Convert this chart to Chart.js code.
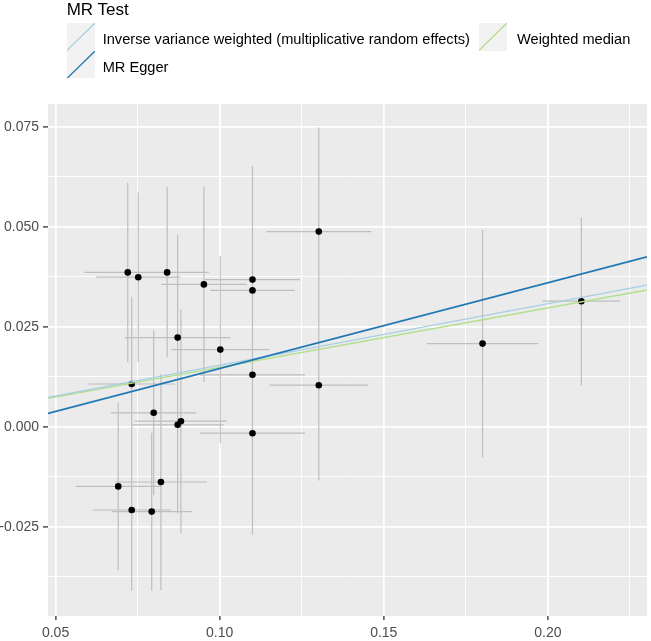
<!DOCTYPE html>
<html>
<head>
<meta charset="utf-8">
<script src="https://cdn.jsdelivr.net/npm/chart.js@4/dist/chart.umd.min.js"></script>
<style>
  body { margin: 0; background: #fff; }
  #wrap { position: relative; width: 651px; height: 641px; font-family: "Liberation Sans", Arial, sans-serif; }
  #myChart { position: absolute; left: 0; top: 0; }
  .lg { position: absolute; line-height: 1; white-space: nowrap; color: #000; }
  .key { position: absolute; background: #f2f2f2; }
</style>
</head>
<body>
<div id="wrap">
  <canvas id="myChart" width="651" height="641"></canvas>
  <div class="lg" style="left:66.7px; top:1px; font-size:17px;">MR Test</div>
  <div id="legendItems"></div>
</div>
<script>
// SNP effects on exposure (x) and outcome (y) with their standard errors
let bx = [0.0720, 0.0752, 0.0840, 0.0952, 0.1100, 0.1100, 0.0872, 0.1002, 0.1302, 0.0732, 0.0799,
          0.0872, 0.0882, 0.1100, 0.1100, 0.1302, 0.0691, 0.0821, 0.0732, 0.0793, 0.1801, 0.2102];
let by = [0.0386, 0.0374, 0.0386, 0.0356, 0.0368, 0.0341, 0.0223, 0.0193, 0.0488, 0.0107, 0.0035,
          0.0005, 0.0014, -0.0016, 0.0130, 0.0104, -0.0149, -0.0138, -0.0208, -0.0212, 0.0208, 0.0314];
let seX = [0.0132, 0.0128, 0.0127, 0.0130, 0.0145, 0.0129, 0.0161, 0.0149, 0.0160, 0.0132, 0.0130,
           0.0140, 0.0140, 0.0160, 0.0160, 0.0150, 0.0130, 0.0140, 0.0119, 0.0122, 0.0170, 0.0118];
let seY = [0.0224, 0.0212, 0.0213, 0.0244, 0.0284, 0.0270, 0.0257, 0.0234, 0.0260, 0.0218, 0.0206,
           0.0222, 0.0280, 0.0253, 0.0240, 0.0238, 0.0209, 0.0270, 0.0202, 0.0197, 0.0284, 0.0210];

// MR method fits
let methods = ["Inverse variance weighted (multiplicative random effects)", "MR Egger", "Weighted median"];
let slopes = [0.1538, 0.2145, 0.1486];
let intercepts = [0, -0.00688, 0];
let methodColors = ["#a6cee3", "#1f78b4", "#b2df8a"];

let xTicks = [0.05, 0.10, 0.15, 0.20];
let yTicks = [-0.025, 0.000, 0.025, 0.050, 0.075];

let xMin = 0.0477, xMax = 0.2302, yMin = -0.0473, yMax = 0.0807;

let isMajor = (v, list) => list.some((t) => Math.abs(t - v) < 1e-6);

// legend (html)
let legendPos = [
    { key: [66.7, 23.3], text: [102.7, 32.2] },
    { key: [66.7, 50.7], text: [102.7, 59.5] },
    { key: [479, 23.3], text: [517, 32.2] },
];
let legendHtml = "";
methods.forEach((m, i) => {
    let p = legendPos[i];
    legendHtml +=
        '<div class="key" style="left:' + p.key[0] + "px;top:" + p.key[1] + 'px;width:28px;height:27.4px;">' +
        '<svg width="28" height="27.4" style="display:block"><line x1="0" y1="27.4" x2="28" y2="0" stroke="' +
        methodColors[i] + '" stroke-width="1.3"/></svg></div>' +
        '<div class="lg" style="left:' + p.text[0] + "px;top:" + p.text[1] + 'px;font-size:14.6px;">' + m + "</div>";
});
document.getElementById("legendItems").innerHTML = legendHtml;

let hBars = [], vBars = [], points = [];
bx.forEach((x, i) => {
    points.push({ x: x, y: by[i] });
    hBars.push({ x: x - seX[i], y: by[i] }, { x: x + seX[i], y: by[i] }, { x: x, y: null });
    vBars.push({ x: x, y: by[i] - seY[i] }, { x: x, y: by[i] + seY[i] }, { x: x, y: null });
});

let lineSets = methods.map((m, i) => ({
    label: m,
    data: [
        { x: xMin, y: intercepts[i] + slopes[i] * xMin },
        { x: xMax, y: intercepts[i] + slopes[i] * xMax },
    ],
    showLine: true,
    borderColor: methodColors[i],
    borderWidth: i == 1 ? 1.6 : 1.3,
    pointRadius: 0,
    order: i == 1 ? 0 : 1,
}));

let panelBg = {
    id: "panelBg",
    beforeDraw(chart) {
        let a = chart.chartArea;
        chart.ctx.save();
        chart.ctx.fillStyle = "#ebebeb";
        chart.ctx.fillRect(a.left, a.top, a.right - a.left, a.bottom - a.top);
        chart.ctx.restore();
    },
};

var ctx = document.getElementById("myChart").getContext("2d");
var myChart = new Chart(ctx, {
    type: "scatter",
    data: {
        datasets: lineSets.concat([
            {
                label: "points",
                data: points,
                pointRadius: 3.3,
                pointBackgroundColor: "#000000",
                pointBorderWidth: 0,
                order: 2,
            },
            {
                label: "hbars",
                data: hBars,
                showLine: true,
                spanGaps: false,
                borderColor: "#bebebe",
                borderWidth: 1.2,
                pointRadius: 0,
                order: 3,
            },
            {
                label: "vbars",
                data: vBars,
                showLine: true,
                spanGaps: false,
                borderColor: "#bebebe",
                borderWidth: 1.2,
                pointRadius: 0,
                order: 3,
            },
        ]),
    },
    options: {
        responsive: false,
        animation: false,
        devicePixelRatio: 1,
        layout: { padding: { top: 104, right: 2, left: 0, bottom: 0 } },
        plugins: { legend: { display: false }, tooltip: { enabled: false } },
        scales: {
            x: {
                type: "linear",
                min: xMin,
                max: xMax,
                afterFit: (s) => { s.height = 25; },
                border: { display: false },
                grid: {
                    color: "#ffffff",
                    lineWidth: (c) => (c.tick && isMajor(c.tick.value, xTicks) ? 1.8 : 0.9),
                    tickColor: (c) => (c.tick && isMajor(c.tick.value, xTicks) ? "#333333" : "rgba(0,0,0,0)"),
                    tickWidth: 1.3,
                    tickLength: 4,
                },
                ticks: {
                    stepSize: 0.025,
                    includeBounds: false,
                    maxTicksLimit: 30,
                    maxRotation: 0,
                    autoSkip: false,
                    padding: 5,
                    color: "#4d4d4d",
                    font: { family: "'Liberation Sans', Arial, sans-serif", size: 14 },
                    callback: (v) => (isMajor(v, xTicks) ? v.toFixed(2) : ""),
                },
            },
            y: {
                type: "linear",
                min: yMin,
                max: yMax,
                afterFit: (s) => { s.width = 48; },
                border: { display: false },
                grid: {
                    color: "#ffffff",
                    lineWidth: (c) => (c.tick && isMajor(c.tick.value, yTicks) ? 1.8 : 0.9),
                    tickColor: (c) => (c.tick && isMajor(c.tick.value, yTicks) ? "#333333" : "rgba(0,0,0,0)"),
                    tickWidth: 1.3,
                    tickLength: 5,
                },
                ticks: {
                    stepSize: 0.0125,
                    includeBounds: false,
                    maxTicksLimit: 30,
                    autoSkip: false,
                    padding: 4,
                    color: "#4d4d4d",
                    font: { family: "'Liberation Sans', Arial, sans-serif", size: 14 },
                    callback: (v) => (isMajor(v, yTicks) ? v.toFixed(3) : ""),
                },
            },
        },
    },
    plugins: [panelBg],
});
</script>
</body>
</html>
